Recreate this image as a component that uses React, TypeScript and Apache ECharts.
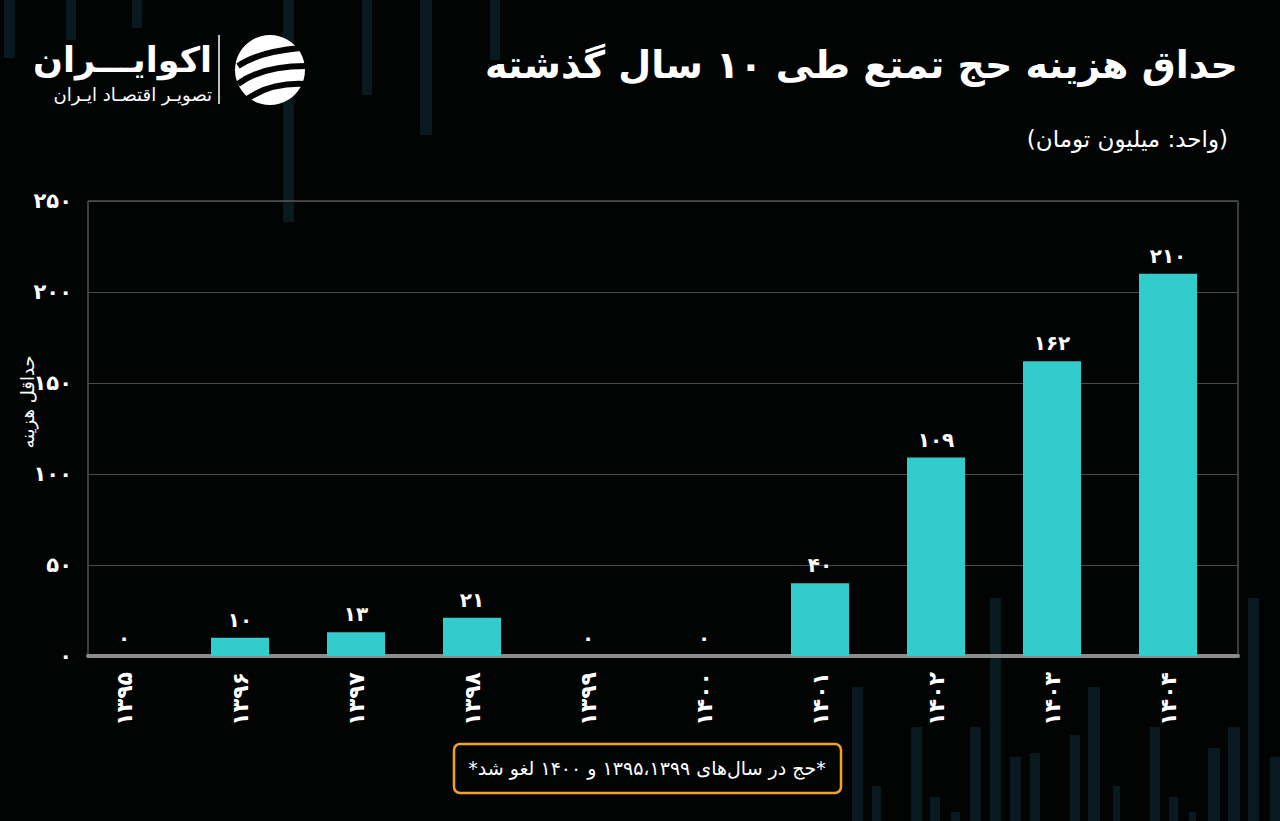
import React, { useEffect, useRef } from "react";
import * as echarts from "echarts";

const years = ["1395", "1396", "1397", "1398", "1399", "1400", "1401", "1402", "1403", "1404"];
const minCost = [0, 10, 13, 21, 0, 0, 40, 109, 162, 210];
const yTicks = { min: 0, max: 250, interval: 50 };

const titleText = "حداق هزینه حج تمتع طی ۱۰ سال گذشته";
const unitText = "(واحد: میلیون تومان)";
const yName = "حداقل هزینه";
const noteText = "*حج در سال‌های ۱۳۹۵،۱۳۹۹ و ۱۴۰۰ لغو شد*";
const brandName = "اکوایـــران";
const brandSub = "تصویـر اقتصـاد ایـران";

// decorative background stripes [x, yTop, width, yBottom]
const stripes: number[][] = [
  [4, 0, 11, 58], [66, 0, 10, 40], [132, 0, 10, 28], [283, 0, 11, 222], [362, 0, 10, 95],
  [420, 0, 12, 135], [490, 0, 10, 60],
  [852, 687, 11, 821], [872, 786, 9, 821], [911, 727, 11, 821], [930, 797, 10, 821],
  [951, 812, 9, 821], [970, 727, 11, 821], [990, 598, 11, 821], [1010, 757, 11, 821],
  [1030, 753, 10, 821], [1070, 735, 10, 821], [1088, 687, 12, 821], [1113, 786, 7, 821],
  [1150, 727, 10, 821], [1169, 797, 9, 821], [1189, 812, 7, 821], [1208, 748, 12, 821],
  [1228, 727, 12, 821], [1248, 598, 11, 821], [1270, 757, 10, 821],
];

const FONT = "DejaVu Sans";
const fa = (s: string | number) => String(s).replace(/[0-9]/g, (d) => "۰۱۲۳۴۵۶۷۸۹"[Number(d)]);
const RLM = "\u200F";

export default function App() {
  const ref = useRef<HTMLDivElement>(null);
  useEffect(() => {
    if (!ref.current) return;
    const chart = echarts.init(ref.current, undefined, { renderer: "svg" });
    const graphics: any[] = stripes.map(([x, y, w, y2]) => ({
      type: "rect",
      z: -10,
      silent: true,
      shape: { x, y, width: w, height: y2 - y },
      style: { fill: "#081a1f" },
    }));
    graphics.push(
      {
        type: "text",
        right: 42,
        top: 46,
        style: { text: RLM + titleText + RLM, fill: "#fff", font: `bold 38px "${FONT}"`, textAlign: "right" },
      },
      {
        type: "text",
        right: 52,
        top: 127,
        style: { text: RLM + unitText + RLM, fill: "#fff", font: `500 23px "${FONT}"`, textAlign: "right" },
      },
      {
        type: "text",
        x: 27,
        y: 402,
        rotation: Math.PI / 2,
        style: { text: RLM + yName + RLM, fill: "#fff", font: `18px "${FONT}"`, textAlign: "center", textVerticalAlign: "middle" },
      },
      {
        type: "text",
        x: 212,
        y: 60,
        style: { text: brandName, fill: "#fff", font: `bold 35px "${FONT}"`, textAlign: "right", textVerticalAlign: "middle" },
      },
      {
        type: "text",
        x: 212,
        y: 94,
        style: { text: brandSub, fill: "#fff", font: `18px "${FONT}"`, textAlign: "right", textVerticalAlign: "middle" },
      },
      { type: "line", shape: { x1: 219, y1: 35, x2: 219, y2: 104 }, style: { stroke: "#fff", lineWidth: 1.5 } },
      { type: "circle", shape: { cx: 270, cy: 70, r: 35 }, style: { fill: "#fff" } },
      { type: "bezierCurve", shape: { x1: 238, y1: 66, cpx1: 258, cpy1: 52, x2: 300, y2: 48 }, style: { stroke: "#020404", lineWidth: 6, fill: null } },
      { type: "bezierCurve", shape: { x1: 238, y1: 84, cpx1: 262, cpy1: 66, x2: 306, y2: 66 }, style: { stroke: "#020404", lineWidth: 6, fill: null } },
      { type: "bezierCurve", shape: { x1: 246, y1: 100, cpx1: 270, cpy1: 82, x2: 306, y2: 84 }, style: { stroke: "#020404", lineWidth: 6, fill: null } },
      {
        type: "rect",
        shape: { x: 454, y: 744, width: 387, height: 49, r: 6 },
        style: { fill: "#020404", stroke: "#f5a21b", lineWidth: 2.5 },
      },
      {
        type: "text",
        x: 647,
        y: 768,
        style: { text: RLM + noteText + RLM, fill: "#fff", font: `19px "${FONT}"`, textAlign: "center", textVerticalAlign: "middle" },
      }
    );

    chart.setOption({
      animation: false,
      backgroundColor: "#020404",
      textStyle: { fontFamily: FONT },
      grid: [
        {
          left: 88,
          right: 42,
          top: 201,
          bottom: 165,
          show: true,
          borderColor: "#777",
          borderWidth: 1,
          backgroundColor: "transparent",
        },
        { left: 66, right: 54, top: 201, bottom: 165 },
      ],
      xAxis: [
        {
          gridIndex: 0,
          type: "category",
          data: years.map(fa),
          axisLine: { lineStyle: { color: "#8c8c8c", width: 4 } },
          axisTick: { show: false },
          axisLabel: { show: false },
        },
        {
          gridIndex: 1,
          type: "category",
          data: years.map(fa),
          axisLine: { show: false },
          axisTick: { show: false },
          axisLabel: { rotate: 90, color: "#fff", fontSize: 22, fontWeight: "bold", margin: 16, fontFamily: FONT },
        },
      ],
      yAxis: [
        {
          gridIndex: 0,
          type: "value",
          min: yTicks.min,
          max: yTicks.max,
          interval: yTicks.interval,
          axisLine: { show: false },
          axisTick: { show: false },
          splitLine: { lineStyle: { color: "#4a4a4a", width: 1 } },
          axisLabel: { color: "#fff", fontSize: 21, fontWeight: "bold", margin: 16, formatter: (v: number) => fa(v), fontFamily: FONT },
        },
        {
          gridIndex: 1,
          type: "value",
          min: yTicks.min,
          max: yTicks.max,
          interval: yTicks.interval,
          show: false,
          splitLine: { show: false },
        },
      ],
      series: [
        {
          type: "bar",
          xAxisIndex: 1,
          yAxisIndex: 1,
          data: minCost,
          barWidth: 58,
          itemStyle: { color: "#33cccc" },
          label: {
            show: true,
            position: "top",
            distance: 8,
            color: "#fff",
            fontSize: 20,
            fontWeight: "bold",
            fontFamily: FONT,
            formatter: (p: any) => fa(p.value),
          },
        },
      ],
      graphic: graphics,
    });
    return () => chart.dispose();
  }, []);
  return <div ref={ref} style={{ width: 1280, height: 821, position: "absolute", left: 0, top: 0 }} />;
}
